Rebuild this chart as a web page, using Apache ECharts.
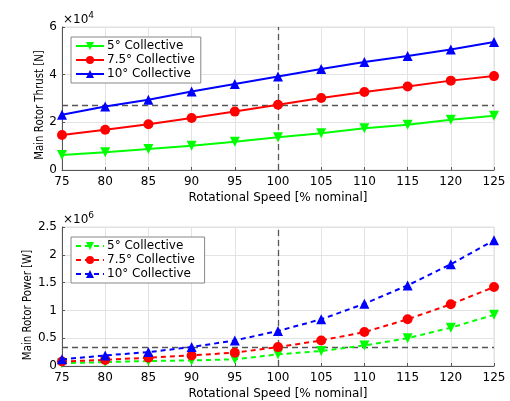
<!DOCTYPE html>
<html>
<head>
<meta charset="utf-8">
<script src="https://cdn.jsdelivr.net/npm/echarts@6/dist/echarts.min.js"></script>
<style>
  html, body { margin: 0; padding: 0; background: #fff; }
  #chart { width: 510px; height: 401px; }
</style>
</head>
<body>
<div id="chart"></div>
<script>
// Rotational speed, % of nominal
const speeds = ['75', '80', '85', '90', '95', '100', '105', '110', '115', '120', '125'];

// Main rotor thrust, in units of 1e4 N
const thrust5  = [0.63, 0.74, 0.88, 1.02, 1.19, 1.37, 1.54, 1.75, 1.90, 2.11, 2.28];
const thrust75 = [1.47, 1.69, 1.92, 2.18, 2.45, 2.74, 3.02, 3.27, 3.50, 3.75, 3.94];
const thrust10 = [2.32, 2.66, 2.95, 3.29, 3.61, 3.92, 4.24, 4.53, 4.78, 5.06, 5.37];

// Main rotor power, in units of 1e6 W
const power5  = [0.05, 0.07, 0.09, 0.10, 0.12, 0.21, 0.27, 0.37, 0.50, 0.69, 0.92];
const power75 = [0.08, 0.11, 0.15, 0.19, 0.24, 0.34, 0.46, 0.61, 0.84, 1.11, 1.42];
const power10 = [0.12, 0.19, 0.25, 0.34, 0.46, 0.63, 0.84, 1.12, 1.45, 1.83, 2.26];

// Reference levels: hover thrust / power and nominal speed
const thrustRef = 2.73;
const powerRef = 0.325;
const nominalSpeed = '100';

const labels = ['5° Collective', '7.5° Collective', '10° Collective'];
const colors = ['#00ff00', '#ff0000', '#0000ff'];
const symbols = ['triangle', 'circle', 'triangle'];
const rotations = [180, 0, 0];

const FONT = 'DejaVu Sans';
const axisColor = '#555';
const gridColor = '#e3e3e3';

function xAxisFor(gridIndex) {
  return {
    type: 'category', gridIndex, data: speeds, boundaryGap: false,
    name: 'Rotational Speed [% nominal]', nameLocation: 'middle', nameGap: 22,
    nameTextStyle: { color: '#000', fontFamily: FONT, fontSize: 12 },
    axisLine: { lineStyle: { color: axisColor, width: 1 } },
    axisTick: { inside: true, length: 3, lineStyle: { color: axisColor } },
    axisLabel: { color: '#000', fontFamily: FONT, fontSize: 12, margin: 6, interval: 0 },
    splitLine: { show: true, lineStyle: { color: gridColor, width: 1 } }
  };
}

function yAxisFor(gridIndex, max, interval) {
  return {
    type: 'value', gridIndex, min: 0, max, interval,
    axisLine: { show: true, lineStyle: { color: axisColor, width: 1 } },
    axisTick: { show: true, inside: true, length: 3, lineStyle: { color: axisColor } },
    axisLabel: { color: '#000', fontFamily: FONT, fontSize: 12, margin: 5 },
    splitLine: { show: true, lineStyle: { color: gridColor, width: 1 } }
  };
}

// Vertical axis titles, drawn as rotated, slightly condensed text
function yTitle(text, x, y) {
  return {
    type: 'text', x, y, rotation: Math.PI / 2, scaleX: 0.85,
    style: {
      text, fontFamily: FONT, fontSize: 12, fill: '#000',
      align: 'center', verticalAlign: 'middle'
    }
  };
}

function exponent(power, top) {
  return {
    type: 'text', left: 63, top,
    style: {
      text: '{a|×10}{b|' + power + '}',
      rich: {
        a: { fontFamily: FONT, fontSize: 12, fill: '#000' },
        b: { fontFamily: FONT, fontSize: 9, fill: '#000', verticalAlign: 'top', padding: [0, 0, 8, 0] }
      }
    }
  };
}

function refLines(yValue) {
  return {
    silent: true, symbol: 'none', animation: false,
    label: { show: false },
    lineStyle: { color: '#555', type: [6, 4], width: 1.3 },
    data: [{ yAxis: yValue }, { xAxis: nominalSpeed }]
  };
}

function makeSeries(values, i, axisIdx, dashed, suffix) {
  return {
    type: 'line',
    name: labels[i] + suffix,
    xAxisIndex: axisIdx, yAxisIndex: axisIdx,
    data: values,
    symbol: symbols[i], symbolRotate: rotations[i], symbolSize: 10,
    showAllSymbol: true,
    itemStyle: { color: colors[i] },
    lineStyle: { color: colors[i], width: 2, type: dashed ? [5, 4] : 'solid' },
    z: 3 + i,
    animation: false
  };
}

const thrustSets = [thrust5, thrust75, thrust10];
const powerSets = [power5, power75, power10];
const PSUF = ' ';  // keeps power series distinct from thrust series in legends

const series = [];
thrustSets.forEach((d, i) => series.push(makeSeries(d, i, 0, false, '')));
powerSets.forEach((d, i) => series.push(makeSeries(d, i, 1, true, PSUF)));
series[0].markLine = refLines(thrustRef);
series[3].markLine = refLines(powerRef);
series[0].markLine.z = 2; series[3].markLine.z = 2;

const legendBase = {
  orient: 'vertical', left: 71, itemWidth: 28, itemHeight: 10, itemGap: 2,
  padding: [3, 6, 3, 4],
  backgroundColor: '#fff', borderColor: '#888', borderWidth: 1, borderRadius: 0,
  textStyle: { color: '#000', fontFamily: FONT, fontSize: 12, padding: [0, 0, 0, -2] },
  selectedMode: false
};

const option = {
  backgroundColor: '#fff',
  animation: false,
  grid: [
    { left: 62, right: 16, top: 27, height: 143, show: true, borderColor: '#ddd', borderWidth: 1 },
    { left: 62, right: 16, top: 227, height: 141, show: true, borderColor: '#ddd', borderWidth: 1 }
  ],
  xAxis: [xAxisFor(0), xAxisFor(1)],
  yAxis: [yAxisFor(0, 6, 2), yAxisFor(1, 2.5, 0.5)],
  legend: [
    Object.assign({}, legendBase, { top: 37, data: labels }),
    Object.assign({}, legendBase, { top: 237, data: labels.map(l => l + PSUF) })
  ],
  graphic: [
    exponent(4, 11),
    exponent(6, 211),
    yTitle('Main Rotor Thrust [N]', 40, 105),
    yTitle('Main Rotor Power [W]', 28, 305)
  ],
  series
};

const chart = echarts.init(document.getElementById('chart'), null, { renderer: 'canvas' });
chart.setOption(option);
</script>
</body>
</html>
